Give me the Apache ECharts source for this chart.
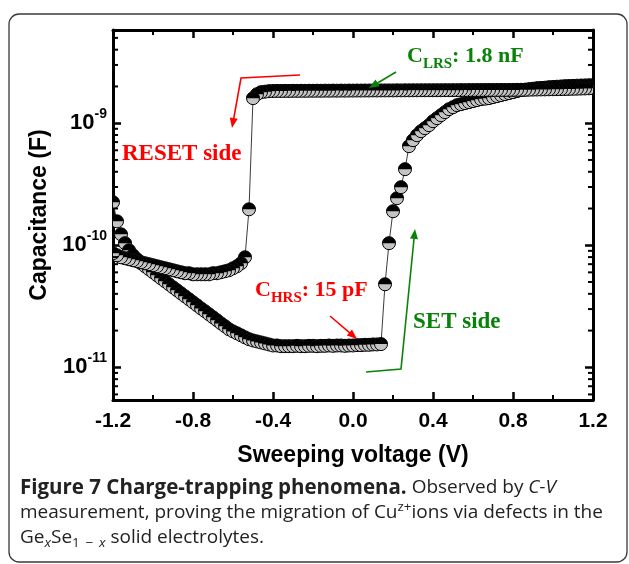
<!DOCTYPE html>
<html>
<head>
<meta charset="utf-8">
<script src="https://cdn.jsdelivr.net/npm/echarts@6/dist/echarts.min.js"></script>
<style>
  html, body { margin: 0; padding: 0; background: #fff; }
  #chart { width: 629px; height: 564px; }
</style>
</head>
<body>
<div id="chart"></div>
<script>
// Sweep voltage grid (V), 20 mV steps
const voltage = [-1.20,-1.18,-1.16,-1.14,-1.12,-1.10,-1.08,-1.06,-1.04,-1.02,
  -1.00,-0.98,-0.96,-0.94,-0.92,-0.90,-0.88,-0.86,-0.84,-0.82,
  -0.80,-0.78,-0.76,-0.74,-0.72,-0.70,-0.68,-0.66,-0.64,-0.62,
  -0.60,-0.58,-0.56,-0.54,-0.52,-0.50,-0.48,-0.46,-0.44,-0.42,
  -0.40,-0.38,-0.36,-0.34,-0.32,-0.30,-0.28,-0.26,-0.24,-0.22,
  -0.20,-0.18,-0.16,-0.14,-0.12,-0.10,-0.08,-0.06,-0.04,-0.02,
  0.00,
  0.02,0.04,0.06,0.08,0.10,0.12,0.14,0.16,0.18,0.20,
  0.22,0.24,0.26,0.28,0.30,0.32,0.34,0.36,0.38,0.40,
  0.42,0.44,0.46,0.48,0.50,0.52,0.54,0.56,0.58,0.60,
  0.62,0.64,0.66,0.68,0.70,0.72,0.74,0.76,0.78,0.80,
  0.82,0.84,0.86,0.88,0.90,0.92,0.94,0.96,0.98,1.00,
  1.02,1.04,1.06,1.08,1.10,1.12,1.14,1.16,1.18,1.20];

// Capacitance (pF) on the -1.2 V -> +1.2 V sweep (SET side), listed by voltage
const capForwardPF = [225,157,123,104,91.0,82.8,76.8,71.2,67.3,63.6,
  60.1,56.8,53.6,50.7,47.9,45.2,42.8,40.4,38.2,36.1,
  34.1,32.2,30.4,28.8,27.2,25.7,24.3,22.9,21.7,20.5,
  19.7,19.0,18.3,17.6,17.0,16.6,16.3,16.0,15.7,15.4,
  15.1,15.1,14.9,14.9,14.9,14.9,15.0,14.9,14.9,15.0,
  15.0,14.9,15.0,15.0,15.1,15.0,15.1,15.1,15.0,15.1,
  15.1,
  15.2,15.2,15.3,15.3,15.4,15.4,15.5,47.9,104,190,
  243,299,420,648,726,797,860,910,963,1038,
  1099,1163,1231,1303,1352,1405,1431,1459,1486,1515,
  1544,1573,1588,1603,1634,1665,1697,1729,1762,1795,
  1830,1865,1880,1900,1915,1936,1945,1955,1973,1980,
  1990,2000,2011,2015,2020,2030,2035,2040,2045,2049];

// Capacitance (pF) on the +1.2 V -> -1.2 V sweep (RESET side), listed by voltage
const capReversePF = [86.0,82.8,79.7,78.2,76.8,75.3,74.0,72.6,71.2,69.9,
  68.6,67.3,66.0,64.8,63.6,62.4,61.2,60.1,59.0,59.0,
  57.8,57.8,57.8,57.8,57.8,59.0,59.0,60.1,61.2,62.4,
  64.8,67.3,71.2,79.7,197,1603,1729,1795,1812,1830,
  1835,1838,1836,1840,1838,1842,1840,1843,1841,1845,
  1843,1846,1844,1848,1846,1849,1847,1850,1848,1851,
  1850,
  1852,1851,1853,1852,1855,1853,1856,1855,1857,1856,
  1858,1857,1859,1858,1860,1859,1861,1860,1862,1861,
  1863,1862,1864,1863,1865,1864,1866,1865,1867,1866,
  1868,1867,1869,1870,1869,1871,1872,1871,1873,1874,
  1876,1878,1880,1882,1885,1887,1890,1892,1895,1898,
  1900,1903,1906,1910,1914,1918,1922,1926,1931,1936];

const xMin = -1.2, xMax = 1.2, xStep = 0.4;
const yMin = 5.4e-12, yMax = 5.8e-9;

// Points in measurement order: up-sweep, then down-sweep
const sweep = [];
voltage.forEach((v, i) => sweep.push([v, capForwardPF[i] * 1e-12]));
for (let i = voltage.length - 1; i >= 0; i--) sweep.push([voltage[i], capReversePF[i] * 1e-12]);

// Minor ticks of the log axis (2..9 x 10^n)
const logMinor = [];
for (let e = -12; e <= -9; e++) {
  for (let m = 2; m <= 9; m++) {
    const v = m * Math.pow(10, e);
    if (v > yMin && v < yMax) logMinor.push([xMin, v]);
  }
}

const SANS = '"Liberation Sans", Arial, Helvetica, sans-serif';
const SERIF = '"Liberation Serif", "Times New Roman", serif';
const CAP = '"Open Sans", "Noto Sans", sans-serif';
const RED = '#ff0000';
const GREEN = '#0a820a';

const measureCtx = document.createElement('canvas').getContext('2d');
// Lays out a run of differently styled text pieces left to right
function textRun(x, y, pieces, fill) {
  const out = [];
  let cx = x;
  pieces.forEach(p => {
    measureCtx.font = p.font;
    out.push({
      type: 'text', x: cx, y: y + (p.dy || 0), z: 10,
      style: { text: p.t, font: p.font, fill: p.fill || fill, align: 'left', verticalAlign: 'middle' }
    });
    cx += measureCtx.measureText(p.t).width;
  });
  return out;
}

function arrow(points, color) {
  const tip = points[points.length - 1], from = points[points.length - 2];
  const dx = tip[0] - from[0], dy = tip[1] - from[1];
  const L = Math.hypot(dx, dy), ux = dx / L, uy = dy / L;
  const len = 10, half = 4;
  const bx = tip[0] - ux * len, by = tip[1] - uy * len;
  const shaft = points.slice(0, -1).concat([[tip[0] - ux * 6, tip[1] - uy * 6]]);
  return [
    { type: 'polyline', z: 10, shape: { points: shaft }, style: { stroke: color, lineWidth: 1.6, fill: null } },
    { type: 'polygon', z: 10, shape: { points: [tip, [bx - uy * half, by + ux * half], [bx + uy * half, by - ux * half]] }, style: { fill: color } }
  ];
}

const bigSerif = 'bold 22px ' + SERIF;
const subSerif = 'bold 15px ' + SERIF;
const labelSerif = 'bold 23px ' + SERIF;
const capReg = '19px ' + CAP;
const capBold = 'bold 20.5px ' + CAP;
const capIt = 'italic 19px ' + CAP;
const capSmall = '13.5px ' + CAP;
const capSmallIt = 'italic 13.5px ' + CAP;

const graphics = [
  { type: 'rect', z: 0, shape: { x: 9, y: 14, width: 618, height: 548, r: 10 },
    style: { fill: null, stroke: '#3a3a3a', lineWidth: 1.3 } },
  { type: 'text', x: 122, y: 154, z: 10, style: { text: 'RESET side', font: labelSerif, fill: RED, verticalAlign: 'middle' } },
  { type: 'text', x: 413, y: 322, z: 10, style: { text: 'SET side', font: labelSerif, fill: GREEN, verticalAlign: 'middle' } }
]
  .concat(textRun(407, 56, [
    { t: 'C', font: bigSerif }, { t: 'LRS', font: subSerif, dy: 8 }, { t: ': 1.8 nF', font: bigSerif }
  ], GREEN))
  .concat(textRun(255, 290, [
    { t: 'C', font: bigSerif }, { t: 'HRS', font: subSerif, dy: 8 }, { t: ': 15 pF', font: bigSerif }
  ], RED))
  .concat(arrow([[300, 75], [241, 78], [232, 128]], RED))
  .concat(arrow([[330, 316], [357, 339]], RED))
  .concat(arrow([[396, 72], [369, 88]], GREEN))
  .concat(arrow([[366, 372], [401, 369], [415, 229]], GREEN))
  .concat(textRun(20, 488, [
    { t: 'Figure 7 Charge-trapping phenomena.', font: capBold },
    { t: ' Observed by ', font: capReg },
    { t: 'C-V', font: capIt }
  ], '#222'))
  .concat(textRun(20, 513, [
    { t: 'measurement, proving the migration of Cu', font: capReg },
    { t: 'z+', font: capSmall, dy: -6 },
    { t: 'ions via defects in the', font: capReg }
  ], '#222'))
  .concat(textRun(20, 538, [
    { t: 'Ge', font: capReg },
    { t: 'x', font: capSmallIt, dy: 5 },
    { t: 'Se', font: capReg },
    { t: '1 \u2009\u2212\u2009 ', font: capSmall, dy: 5 },
    { t: 'x', font: capSmallIt, dy: 5 },
    { t: ' solid electrolytes.', font: capReg }
  ], '#222'));

const axisLineStyle = { show: true, onZero: false, lineStyle: { color: '#000', width: 3 } };
const majorTick = { show: true, inside: true, length: 8, lineStyle: { color: '#000', width: 2.5 } };
const minorTick = { show: true, splitNumber: 2, length: 5, lineStyle: { color: '#000', width: 2 } };

function xAxisCfg(pos, labels) {
  return {
    type: 'value', position: pos, min: xMin, max: xMax, interval: xStep,
    axisLine: axisLineStyle, axisTick: majorTick, minorTick: minorTick,
    splitLine: { show: false },
    axisLabel: labels ? {
      show: true, margin: 11, color: '#000', fontFamily: SANS, fontWeight: 'bold', fontSize: 21,
      formatter: v => v.toFixed(1)
    } : { show: false },
    name: labels ? 'Sweeping voltage (V)' : '',
    nameLocation: 'middle', nameGap: 44,
    nameTextStyle: { color: '#000', fontFamily: SANS, fontWeight: 'bold', fontSize: 23 }
  };
}

function yAxisCfg(pos, labels) {
  return {
    type: 'log', logBase: 10, position: pos, min: yMin, max: yMax,
    axisLine: axisLineStyle, axisTick: majorTick,
    splitLine: { show: false },
    axisLabel: labels ? {
      show: true, margin: 6, showMinLabel: false, showMaxLabel: false,
      formatter: v => {
        const e = Math.log10(v), r = Math.round(e);
        if (Math.abs(e - r) > 1e-6) return '';
        return '{b|10}{s|' + r + '}';
      },
      rich: {
        b: { fontFamily: SANS, fontWeight: 'bold', fontSize: 22, color: '#000', lineHeight: 32 },
        s: { fontFamily: SANS, fontWeight: 'bold', fontSize: 14, color: '#000', lineHeight: 14, verticalAlign: 'top' }
      }
    } : { show: false },
    name: labels ? 'Capacitance (F)' : '',
    nameLocation: 'middle', nameGap: 52,
    nameTextStyle: { color: '#000', fontFamily: SANS, fontWeight: 'bold', fontSize: 23 }
  };
}

const chart = echarts.init(document.getElementById('chart'), null, { renderer: 'canvas' });
chart.setOption({
  animation: false,
  backgroundColor: '#fff',
  grid: { left: 113, right: 36, top: 30, bottom: 164, containLabel: false },
  xAxis: [xAxisCfg('bottom', true), xAxisCfg('top', false)],
  yAxis: [yAxisCfg('left', true), yAxisCfg('right', false)],
  graphic: graphics,
  series: [
    {
      name: 'sweep line', type: 'line', xAxisIndex: 0, yAxisIndex: 0,
      data: sweep, symbol: 'none', clip: true, z: 2,
      lineStyle: { color: '#3c3c3c', width: 1 }
    },
    {
      name: 'C-V', type: 'custom', xAxisIndex: 0, yAxisIndex: 0,
      data: sweep, clip: true, z: 3,
      renderItem: (params, api) => {
        const p = api.coord([api.value(0), api.value(1)]);
        const r = 6.5;
        return {
          type: 'group',
          children: [
            { type: 'circle', shape: { cx: p[0], cy: p[1], r: r }, style: { fill: '#c4c4c4', stroke: '#000', lineWidth: 1 } },
            { type: 'sector', shape: { cx: p[0], cy: p[1], r0: 0, r: r, startAngle: Math.PI, endAngle: 2 * Math.PI }, style: { fill: '#000' } }
          ]
        };
      }
    },
    {
      name: 'log minor ticks', type: 'custom', xAxisIndex: 0, yAxisIndex: 0,
      data: logMinor, clip: false, z: 5, silent: true,
      renderItem: (params, api) => {
        const v = api.value(1);
        const pl = api.coord([xMin, v]);
        const pr = api.coord([xMax, v]);
        return {
          type: 'group',
          children: [
            { type: 'line', shape: { x1: pl[0], y1: pl[1], x2: pl[0] + 5, y2: pl[1] }, style: { stroke: '#000', lineWidth: 2 } },
            { type: 'line', shape: { x1: pr[0] - 5, y1: pr[1], x2: pr[0], y2: pr[1] }, style: { stroke: '#000', lineWidth: 2 } }
          ]
        };
      }
    }
  ]
});
</script>
</body>
</html>
